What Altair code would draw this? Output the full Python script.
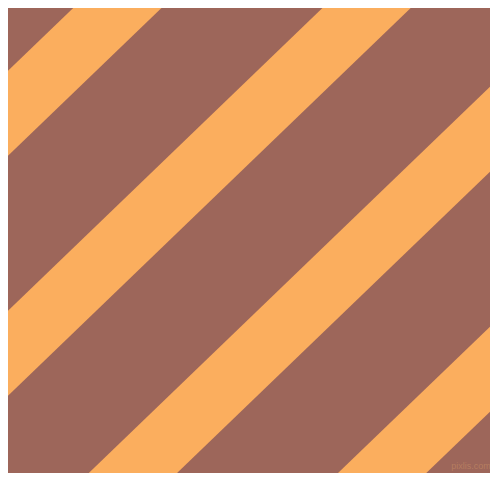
import altair as alt
import pandas as pd

# Stripe definitions: each stripe is the band  c0 <= y + slope*x <= c0 + width  (pixel coords, y down)
stripe_ids = ["s1", "s2", "s3", "s4"]
stripe_starts = [78.5, 318.5, 558.5, 798.5]
stripe_width = 85.0
slope = 0.963
x_ends = [-100.0, 600.0]

bg_color = "#9D665A"
stripe_color = "#FBAE5E"

watermark = ["pixlis.com"]
wm_x = [471.0]
wm_y = [466.0]

rows = []
for sid, c0 in zip(stripe_ids, stripe_starts):
    for x in x_ends:
        rows.append({"stripe": sid, "x": x, "y": c0 - slope * x, "y2": c0 + stripe_width - slope * x})
df = pd.DataFrame(rows)
wm = pd.DataFrame({"t": watermark, "x": wm_x, "y": wm_y})

xs = alt.Scale(domain=[8, 490], nice=False, zero=False)
ys = alt.Scale(domain=[8, 473], nice=False, zero=False, reverse=True)

stripes = alt.Chart(df).mark_area(color=stripe_color, clip=True, opacity=1).encode(
    x=alt.X("x:Q", scale=xs, axis=None),
    y=alt.Y("y:Q", scale=ys, axis=None),
    y2="y2:Q",
    detail="stripe:N",
)

text = alt.Chart(wm).mark_text(
    fontSize=9, font="Liberation Sans", color="#B88062", opacity=0.9,
    align="center", baseline="middle", clip=True
).encode(
    x=alt.X("x:Q", scale=xs, axis=None),
    y=alt.Y("y:Q", scale=ys, axis=None),
    text="t:N",
)

chart = alt.layer(stripes, text).properties(
    width=482, height=465, padding=0, background=bg_color,
    autosize=alt.AutoSizeParams(type="none"),
).configure_view(stroke=None, fill=bg_color)

chart.save("out.html", embed_options={"renderer": "svg", "actions": False})
